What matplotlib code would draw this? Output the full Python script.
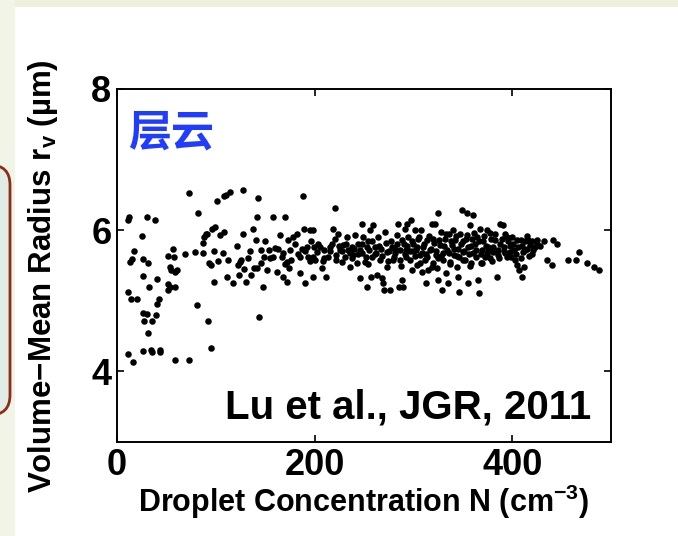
import numpy as np
import matplotlib.pyplot as plt
from matplotlib.patches import Rectangle, FancyBboxPatch

# droplet concentration N (cm^-3) and volume-mean radius r_v (um)
n_left = [11.5, 12.5, 13, 15, 17.5, 26.7, 11.5, 13.8, 20, 11, 16, 25, 26.7, 30.7, 38.5,
          31.7, 32.7, 40, 26.7, 30, 27.3, 35, 31.7, 39.5, 40, 43, 26.7, 34, 35, 43.5, 44,
          58.4, 73, 52, 57, 53.6, 55, 58.7, 61, 52, 53.6, 58.7, 52, 57.7, 68.8, 73, 82, 79,
          80.6, 92.4, 95, 87, 88, 90, 91.4, 87, 93, 95, 96, 99, 98, 98]
r_left = [6.15, 6.18, 5.55, 5.59, 5.71, 5.35, 5.12, 5.03, 5.02, 4.25, 4.14, 5.92, 5.59, 6.18, 6.15,
          5.54, 5.2, 5.31, 4.83, 4.82, 4.71, 4.71, 4.55, 4.8, 4.96, 5.02, 4.29, 4.31, 4.27, 4.30, 4.28,
          4.16, 4.16, 5.64, 5.74, 5.48, 5.44, 5.41, 5.44, 5.24, 5.2, 5.19, 5.16, 5.62, 5.66, 6.52, 6.24, 5.69,
          4.94, 4.71, 4.33, 5.82, 5.91, 5.95, 5.94, 5.67, 5.53, 5.51, 6.02, 6.05, 5.71, 5.27]

n_mid = [101, 108, 110, 114, 128, 143, 104, 108, 102.5, 107.6, 112.7, 111, 117.7, 121, 123, 122,
         124.5, 126, 128, 129, 131, 133, 134.6, 136, 138, 138.7, 140.7, 141.4, 142, 144, 145.7, 146,
         148, 148.8, 150, 151.5, 154, 158, 158, 161.6, 163, 165, 166.7, 168, 170, 171.7, 172.4, 173.4,
         174.4, 175, 178.5, 182, 185, 187, 188.6, 189.3, 190, 192, 193.7, 195, 196, 198.7, 199.4,
         200.4, 198.7, 202, 205, 207, 209.5, 212, 214, 215.6, 219, 220.6, 220.6, 222, 224, 225.7,
         227.4, 229, 231, 232.4, 234, 236, 237.5, 239, 241, 242.6, 244, 246, 247.6, 247.6, 249, 251,
         252.7, 252.7, 254, 256, 256.7, 257.7, 259.4, 261, 263, 264.5, 266, 268, 269.6, 270, 271.2,
         273, 273.6, 276.3, 277, 279, 281.4, 283, 284.8, 285.8, 286.4, 288, 289, 290.5, 291.5, 293,
         293.8, 294.8, 296.5, 298, 299, 300]
r_mid = [6.42, 6.48, 6.50, 6.54, 6.57, 6.45, 5.93, 5.98, 5.57, 5.67, 5.58, 5.34, 5.25, 5.78, 5.37, 5.51,
         5.55, 5.58, 5.95, 5.45, 5.27, 5.60, 5.71, 5.37, 6.02, 5.46, 5.86, 6.18, 5.46, 4.77, 5.53, 5.72,
         5.2, 5.62, 5.84, 5.44, 5.72, 6.18, 5.62, 5.41, 5.74, 5.93, 5.62, 5.34, 6.19, 5.27, 5.55, 5.86,
         5.46, 5.72, 5.91, 5.95, 5.39, 5.74, 6.49, 6.02, 5.25, 5.76, 5.62, 6.0, 5.84, 6.0, 5.76,
         5.58, 5.34, 5.69, 5.76, 5.46, 5.72, 5.34, 5.62, 5.76, 6.02, 6.31, 5.88, 5.65, 5.95, 5.72,
         5.55, 5.79, 5.62, 5.91, 5.72, 5.48, 5.76, 5.65, 5.93, 5.53, 5.81, 5.32, 6.09, 5.67, 5.91, 5.55,
         5.19, 5.76, 5.84, 6.0, 5.34, 5.62, 6.07, 5.76, 5.37, 5.91, 5.58, 5.32, 5.25, 5.15, 5.98,
         5.69, 5.48, 5.15, 5.84, 5.58, 5.74, 5.93, 6.09, 5.19, 5.58, 5.29, 5.19, 5.81, 6.02, 5.72,
         6.09, 5.91, 5.58, 6.14, 5.44, 5.81]

n_right = [301.6, 302.6, 303.3, 305, 306.7, 307.3, 308.3, 310, 311.7, 312.7, 313.4, 315, 316.8, 318.5,
           319.5, 320, 322, 323, 324.2, 325.2, 325.2, 327, 327.6, 328.6, 330.3, 332, 333, 333.7, 335.4,
           336.4, 337, 338.8, 340.4, 341.1, 342, 344, 344.8, 345.6, 346.5, 347.2, 348.8, 349.9, 350.5,
           352, 354, 354.6, 355.2, 355.6, 357.3, 358, 359, 360, 360.7, 362.3, 364, 365.7, 366.4, 367.4,
           368, 369, 370.8, 372.5, 374, 375.8, 377.5, 379, 380.8, 382.6, 384.3, 386, 387.6, 389.3, 391,
           391.7, 392.7, 394.4, 396, 397.8, 399.5, 401, 402.8, 404.5, 406.2, 407.2, 408.5, 409.5, 410.5,
           411.9, 413, 414.6, 416.3, 418, 419.7, 421.4, 423, 424.8, 425.4, 434.9, 440, 441.6, 445,
           456.8, 464.6, 468, 476, 482.3, 488.2]
r_right = [6.0, 5.72, 5.51, 5.88, 5.65, 6.0, 5.41, 5.76, 5.58, 5.25, 5.86, 5.44, 5.72, 6.09,
           5.53, 5.88, 6.09, 5.65, 5.46, 6.24, 5.29, 5.79, 5.98, 5.15, 5.58, 5.88, 5.39, 5.72, 5.25,
           5.95, 5.55, 5.79, 6.0, 5.65, 5.86, 5.48, 5.34, 5.74, 5.13, 5.95, 6.28, 5.69, 5.84,
           5.58, 6.24, 5.93, 5.25, 5.76, 6.07, 5.53, 5.88, 6.21, 5.67, 5.81, 5.91, 5.29, 5.11, 6.02,
           5.53, 5.72, 5.84, 5.62, 6.0, 5.76, 5.60, 5.88, 5.69, 5.95, 5.34, 5.65, 6.09, 5.88, 6.07,
           5.76, 5.95, 5.62, 5.84, 5.69, 5.91, 5.81, 5.58, 5.51, 5.76, 5.44, 5.86, 5.34, 5.69,
           5.48, 5.84, 5.74, 5.86, 5.79, 5.84, 5.72, 5.76, 5.86, 5.81, 5.58, 5.51, 5.86, 5.81,
           5.58, 5.58, 5.69, 5.53, 5.48, 5.43]

# the dense core of the cloud
n_core = [155, 160, 168, 176, 180, 185, 190, 195, 203, 210, 216, 222,
          225, 228, 232, 236, 240, 244, 248, 252, 255, 258, 262, 265, 268, 272, 275, 278, 280, 283,
          286, 288, 291, 294, 297, 299, 302, 304, 306, 309, 311, 314, 316, 318, 321, 323, 326, 328,
          331, 333, 336, 338, 341, 343, 346, 348, 351, 353, 356, 358, 361, 363, 366, 368, 371, 373,
          376, 378, 381, 383, 386, 388, 392, 395, 398, 402, 405, 410, 415, 420, 428, 432,
          238, 246, 254, 261, 267, 274, 281, 287, 293, 300, 307, 313, 319, 325, 330, 337, 344, 350,
          357, 363, 369, 375, 380, 387, 393, 399, 404, 409, 413, 417, 170, 183, 198, 208, 218]
r_core = [5.60, 5.75, 5.68, 5.58, 5.80, 5.62, 5.70, 5.56, 5.80, 5.60, 5.70, 5.58,
          5.78, 5.70, 5.80, 5.68, 5.74, 5.66, 5.80, 5.62, 5.72, 5.85, 5.68, 5.78, 5.64, 5.82, 5.70, 5.76, 5.62, 5.80,
          5.72, 5.86, 5.66, 5.78, 5.70, 5.84, 5.64, 5.76, 5.90, 5.68, 5.80, 5.62, 5.92, 5.74, 5.82, 5.70, 5.86, 5.64,
          5.78, 5.94, 5.68, 5.84, 5.74, 5.92, 5.62, 5.80, 5.70, 5.88, 5.66, 5.78, 5.96, 5.72, 5.84, 5.66, 5.92, 5.78,
          5.70, 5.96, 5.76, 5.86, 5.72, 5.80, 5.70, 5.90, 5.78, 5.72, 5.86, 5.78, 5.92, 5.66, 5.78, 5.84,
          5.60, 5.72, 5.52, 5.66, 5.74, 5.56, 5.68, 5.50, 5.62, 5.70, 5.54, 5.66, 5.48, 5.60, 5.68, 5.52, 5.64, 5.58,
          5.50, 5.62, 5.54, 5.66, 5.56, 5.60, 5.68, 5.62, 5.66, 5.60, 5.72, 5.64, 5.52, 5.66, 5.62, 5.56, 5.80]

N = np.array(n_left + n_mid + n_right + n_core)
rv = np.array(r_left + r_mid + r_right + r_core)

plt.rcParams['font.family'] = ['Liberation Sans', 'DejaVu Sans']
plt.rcParams['font.weight'] = 'bold'
plt.rcParams['mathtext.fontset'] = 'custom'
plt.rcParams['mathtext.rm'] = 'Liberation Sans:bold'
plt.rcParams['mathtext.it'] = 'Liberation Sans:bold'
plt.rcParams['mathtext.bf'] = 'Liberation Sans:bold'

fig = plt.figure(figsize=(6.78, 5.36), dpi=100)
fig.patch.set_facecolor('white')

# slide background bits
fig.patches.append(Rectangle((0, 1 - 7/536), 1, 7/536, transform=fig.transFigure,
                             facecolor='#eef0dc', edgecolor='none', zorder=0))
fig.patches.append(Rectangle((0, 0), 15/678, 1, transform=fig.transFigure,
                             facecolor='#f3f4e8', edgecolor='none', zorder=0))
fig.patches.append(FancyBboxPatch((-0.4, 1.21), 0.5, 2.5, boxstyle='round,pad=0,rounding_size=0.2',
                                  transform=fig.dpi_scale_trans, facecolor='#e2ece7',
                                  edgecolor='#8b2e14', linewidth=2, zorder=1))

ax = fig.add_axes([117/678, 1 - 442/536, 494/678, 353/536])
ax.scatter(N, rv, s=22, color='black', linewidths=0, zorder=3)

ax.set_xlim(0, 500)
ax.set_ylim(3, 8)
ax.set_xticks([0, 200, 400])
ax.set_yticks([4, 6, 8])
ax.tick_params(direction='in', length=5, width=1.2, top=True, right=True,
               labelsize=26, pad=4)
for lab in ax.get_xticklabels() + ax.get_yticklabels():
    lab.set_fontweight('bold')
for sp in ax.spines.values():
    sp.set_linewidth(1.4)

ax.set_xlabel('Droplet Concentration N (cm$^{-3}$)', fontsize=22, fontweight='bold')
ax.xaxis.set_label_coords(0.5, -0.115)
ax.set_ylabel('Volume\u2212Mean Radius r$_{v}$ (\u00b5m)', fontsize=22.5, fontweight='bold')
ax.yaxis.set_label_coords(-0.115, 0.47)

ax.text(0.022, 0.94, '层云', transform=ax.transAxes, color='#1f3cff', fontsize=31,
        fontweight='bold', family=['Noto Sans CJK SC', 'DejaVu Sans'], va='top', ha='left')
ax.text(0.96, 0.045, 'Lu et al., JGR, 2011', transform=ax.transAxes, fontsize=29,
        fontweight='bold', ha='right', va='bottom')

fig.savefig('out.png', dpi=100)
